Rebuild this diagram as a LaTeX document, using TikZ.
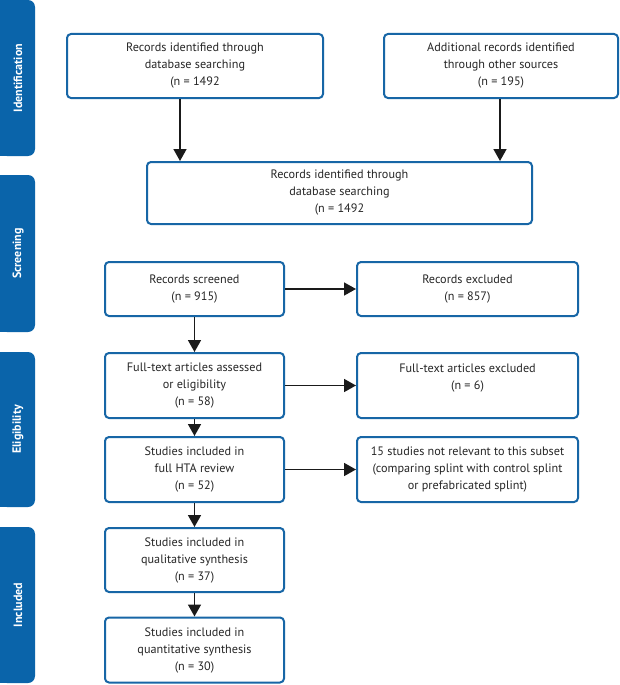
\documentclass[tikz,border=0pt]{standalone}
\usepackage{fontspec}
\setmainfont{PT Sans}
\usetikzlibrary{arrows.meta,calc}
\definecolor{bblue}{HTML}{0A64AA}
\definecolor{bline}{HTML}{1766A6}
\definecolor{arrcol}{HTML}{1A1A1A}
\tikzset{
  flowbox/.style={draw=bline, line width=2pt, rounded corners=4pt, align=center,
    inner sep=0pt, fill=white, text=black!85, font=\fontsize{12.2}{17}\selectfont},
  sidelabel/.style={rotate=90, text=white, font=\bfseries\fontsize{12}{14}\selectfont},
  arr/.style={draw=arrcol, line width=1.6pt, -{Triangle[length=12pt,width=13pt]}},
}
\begin{document}
\begin{tikzpicture}[x=1pt,y=-1pt]
\useasboundingbox (0,0) rectangle (619,685);
\fill[white] (0,0) rectangle (619,685);
% side bars
\foreach \ya/\yb/\nm/\txt in {0/156/sid/Identification,175/332/ssc/Screening,352/507/sel/Eligibility,527/683/sin/Included}{
  \fill[bblue, rounded corners=7pt] (0,\ya) rectangle (35,\yb);
  \fill[bblue] (0,\ya) rectangle (10,\yb);
  \node[sidelabel] (\nm) at (18,{(\ya+\yb)/2}) {\txt};
}
% boxes
\node[flowbox, minimum width=256pt, minimum height=64pt] (A) at (195,66)
  {Records identified through\\database searching\\(n = 1492};
\node[flowbox, minimum width=234pt, minimum height=64pt] (B) at (501,66)
  {Additional records identified\\through other sources\\(n = 195)};
\node[flowbox, minimum width=385pt, minimum height=62pt] (C) at (339.5,193)
  {Records identified through\\database searching\\(n = 1492};
\node[flowbox, minimum width=179pt, minimum height=54pt] (D) at (194.5,289)
  {Records screened\\(n = 915)};
\node[flowbox, minimum width=221pt, minimum height=54pt] (E) at (467.5,289)
  {Records excluded\\(n = 857)};
\node[flowbox, minimum width=179pt, minimum height=65pt] (F) at (194.5,385.5)
  {Full-text articles assessed\\or eligibility\\(n = 58)};
\node[flowbox, minimum width=221pt, minimum height=65pt] (G) at (467.5,385.5)
  {Full-text articles excluded\\(n = 6)\\\mbox{}};
\node[flowbox, minimum width=179pt, minimum height=65pt] (H) at (194.5,469.5)
  {Studies included in\\full HTA review\\(n = 52)};
\node[flowbox, minimum width=221pt, minimum height=65pt] (I) at (467.5,469.5)
  {15 studies not relevant to this subset\\(comparing splint with control splint\\or prefabricated splint)};
\node[flowbox, minimum width=179pt, minimum height=64pt] (J) at (194.5,560)
  {Studies included in\\qualitative synthesis\\(n = 37)};
\node[flowbox, minimum width=179pt, minimum height=65pt] (K) at (194.5,650)
  {Studies included in\\quantitative synthesis\\(n = 30)};
% arrows
\coordinate (xa) at (180,0);
\coordinate (xb) at (500,0);
\draw[arr] (xa |- A.south) -- (xa |- C.north);
\draw[arr] (xb |- B.south) -- (xb |- C.north);
\draw[arr] (D.east) -- (E.west);
\draw[arr] (D.south) -- (F.north);
\draw[arr] (F.east) -- (G.west);
\draw[arr] (F.south) -- (H.north);
\draw[arr] (H.east) -- (I.west);
\draw[arr] (H.south) -- (J.north);
\draw[arr] (J.south) -- (K.north);
\end{tikzpicture}
\end{document}
